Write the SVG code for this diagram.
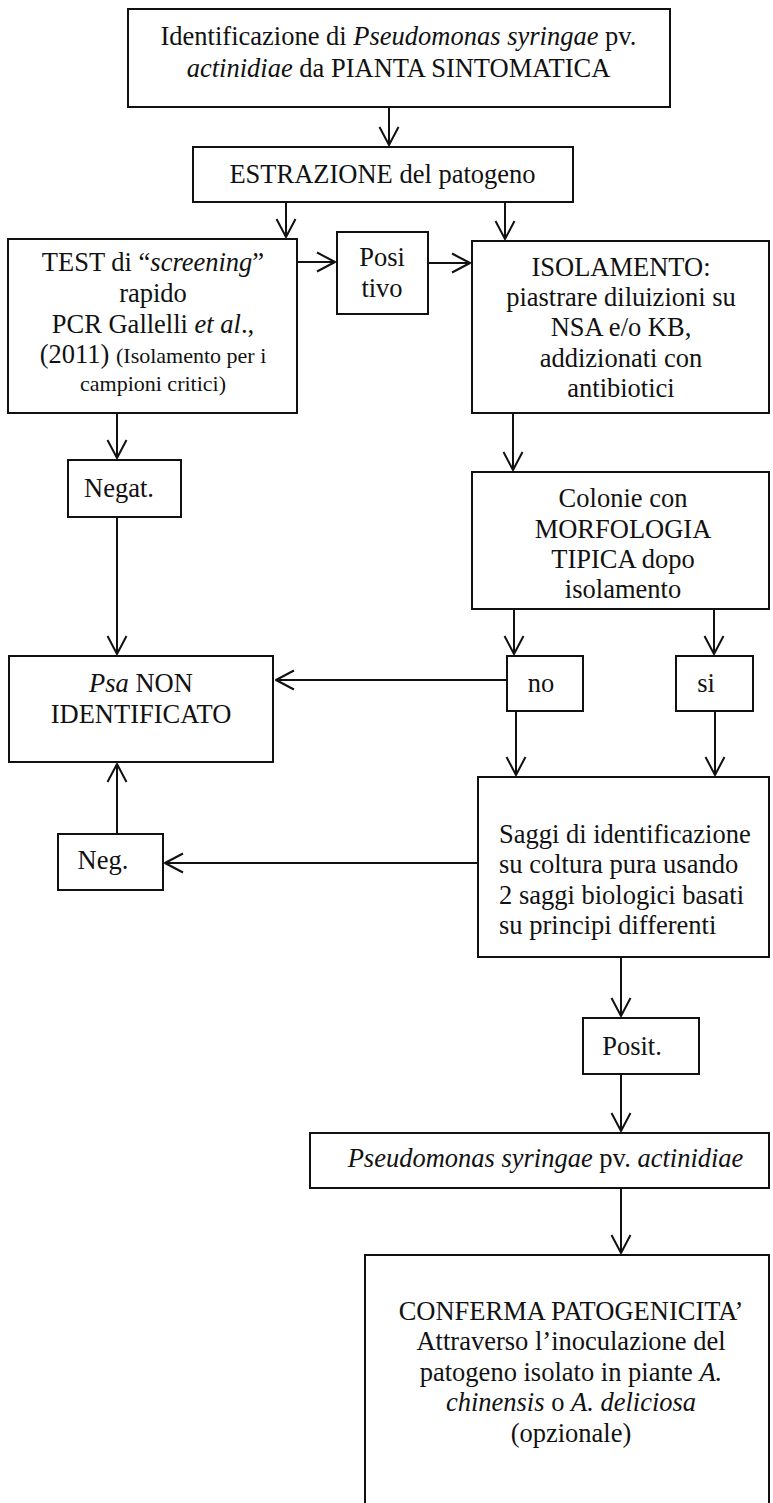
<svg xmlns="http://www.w3.org/2000/svg" width="773" height="1503" viewBox="0 0 773 1503">
  <style>
    .box { fill: #ffffff; stroke: #111111; stroke-width: 2; }
    .t { font-family: "Liberation Serif", "Times New Roman", serif; font-size: 26.5px; fill: #111111; }
    .c { text-anchor: middle; }
    .it { font-style: italic; }
    .sm { font-size: 22px; }
    .link { fill: none; stroke: #111111; stroke-width: 2; marker-end: url(#arrow); }
  </style>
  <defs>
    <marker id="arrow" markerUnits="userSpaceOnUse" markerWidth="24" markerHeight="24" viewBox="-20 -12 22 24" refX="0" refY="0" orient="auto" overflow="visible">
      <path d="M-18,-9.5 L0,0 L-18,9.5" fill="none" stroke="#111111" stroke-width="2" stroke-linejoin="round"/>
    </marker>
  </defs>
  <rect width="773" height="1503" fill="#ffffff"/>

  <!-- connectors -->
  <g id="connectors">
    <line class="link" x1="389" y1="107" x2="389" y2="145"/>
    <line class="link" x1="286" y1="202" x2="286" y2="237"/>
    <line class="link" x1="505" y1="202" x2="505" y2="239"/>
    <line class="link" x1="297" y1="262" x2="335" y2="262"/>
    <line class="link" x1="428" y1="263" x2="470" y2="263"/>
    <line class="link" x1="117" y1="413" x2="117" y2="458"/>
    <line class="link" x1="117" y1="517" x2="117" y2="654"/>
    <line class="link" x1="513" y1="413" x2="513" y2="470"/>
    <line class="link" x1="514" y1="609" x2="514" y2="654"/>
    <line class="link" x1="714" y1="609" x2="714" y2="654"/>
    <line class="link" x1="507" y1="680" x2="276" y2="680"/>
    <line class="link" x1="516" y1="711" x2="516" y2="775"/>
    <line class="link" x1="715" y1="711" x2="715" y2="775"/>
    <line class="link" x1="478" y1="863" x2="165" y2="863"/>
    <line class="link" x1="117" y1="834" x2="117" y2="764"/>
    <line class="link" x1="621" y1="957" x2="621" y2="1016"/>
    <line class="link" x1="621" y1="1074" x2="621" y2="1131"/>
    <line class="link" x1="621" y1="1188" x2="621" y2="1253"/>
  </g>

  <g id="node-start">
    <rect class="box" x="128" y="9" width="542" height="98"/>
    <text class="t c" x="398.5" y="45">Identificazione di <tspan class="it">Pseudomonas syringae</tspan> pv.</text>
    <text class="t c" x="398.5" y="77"><tspan class="it">actinidiae</tspan> da PIANTA SINTOMATICA</text>
  </g>

  <g id="node-estrazione">
    <rect class="box" x="193" y="147" width="380" height="55"/>
    <text class="t c" x="382.5" y="183">ESTRAZIONE del patogeno</text>
  </g>

  <g id="node-test">
    <rect class="box" x="8" y="239" width="289" height="174"/>
    <text class="t c" x="153" y="271">TEST di “<tspan class="it">screening</tspan>”</text>
    <text class="t c" x="153" y="302">rapido</text>
    <text class="t c" x="153" y="333">PCR Gallelli <tspan class="it">et al</tspan>.,</text>
    <text class="t c" x="153" y="363">(2011) <tspan class="sm">(Isolamento per i</tspan></text>
    <text class="t c sm" x="153" y="391">campioni critici)</text>
  </g>

  <g id="node-positivo">
    <rect class="box" x="337" y="232" width="91" height="82"/>
    <text class="t c" x="382" y="266">Posi</text>
    <text class="t c" x="382" y="297">tivo</text>
  </g>

  <g id="node-isolamento">
    <rect class="box" x="472" y="241" width="297" height="172"/>
    <text class="t c" x="621" y="276">ISOLAMENTO:</text>
    <text class="t c" x="621" y="306">piastrare diluizioni su</text>
    <text class="t c" x="621" y="336">NSA e/o KB,</text>
    <text class="t c" x="621" y="367">addizionati con</text>
    <text class="t c" x="621" y="397">antibiotici</text>
  </g>

  <g id="node-negat">
    <rect class="box" x="68" y="460" width="113" height="57"/>
    <text class="t c" x="119" y="497">Negat.</text>
  </g>

  <g id="node-colonie">
    <rect class="box" x="472" y="472" width="297" height="137"/>
    <text class="t c" x="623" y="507">Colonie con</text>
    <text class="t c" x="623" y="538">MORFOLOGIA</text>
    <text class="t c" x="623" y="568">TIPICA dopo</text>
    <text class="t c" x="623" y="598">isolamento</text>
  </g>

  <g id="node-no">
    <rect class="box" x="507" y="656" width="76" height="55"/>
    <text class="t c" x="541" y="692">no</text>
  </g>

  <g id="node-si">
    <rect class="box" x="676" y="656" width="77" height="55"/>
    <text class="t c" x="706" y="692">si</text>
  </g>

  <g id="node-non-identificato">
    <rect class="box" x="9" y="656" width="264" height="106"/>
    <text class="t c" x="141" y="692"><tspan class="it">Psa</tspan> NON</text>
    <text class="t c" x="141" y="723">IDENTIFICATO</text>
  </g>

  <g id="node-saggi">
    <rect class="box" x="478" y="777" width="291" height="180"/>
    <text class="t" x="499" y="843">Saggi di identificazione</text>
    <text class="t" x="499" y="873">su coltura pura usando</text>
    <text class="t" x="499" y="904">2 saggi biologici basati</text>
    <text class="t" x="499" y="934">su principi differenti</text>
  </g>

  <g id="node-neg">
    <rect class="box" x="58" y="834" width="105" height="56"/>
    <text class="t c" x="103" y="869">Neg.</text>
  </g>

  <g id="node-posit">
    <rect class="box" x="583" y="1018" width="116" height="56"/>
    <text class="t c" x="632" y="1055">Posit.</text>
  </g>

  <g id="node-psa">
    <rect class="box" x="310" y="1133" width="459" height="55"/>
    <text class="t c" x="545.5" y="1167"><tspan class="it">Pseudomonas syringae</tspan> pv. <tspan class="it">actinidiae</tspan></text>
  </g>

  <g id="node-conferma">
    <rect class="box" x="365" y="1255" width="404" height="270"/>
    <text class="t c" x="571" y="1320">CONFERMA PATOGENICITA’</text>
    <text class="t c" x="571" y="1350">Attraverso l’inoculazione del</text>
    <text class="t c" x="571" y="1381">patogeno isolato in piante <tspan class="it">A.</tspan></text>
    <text class="t c" x="571" y="1411"><tspan class="it">chinensis</tspan> o <tspan class="it">A. deliciosa</tspan></text>
    <text class="t c" x="571" y="1442">(opzionale)</text>
  </g>
</svg>
